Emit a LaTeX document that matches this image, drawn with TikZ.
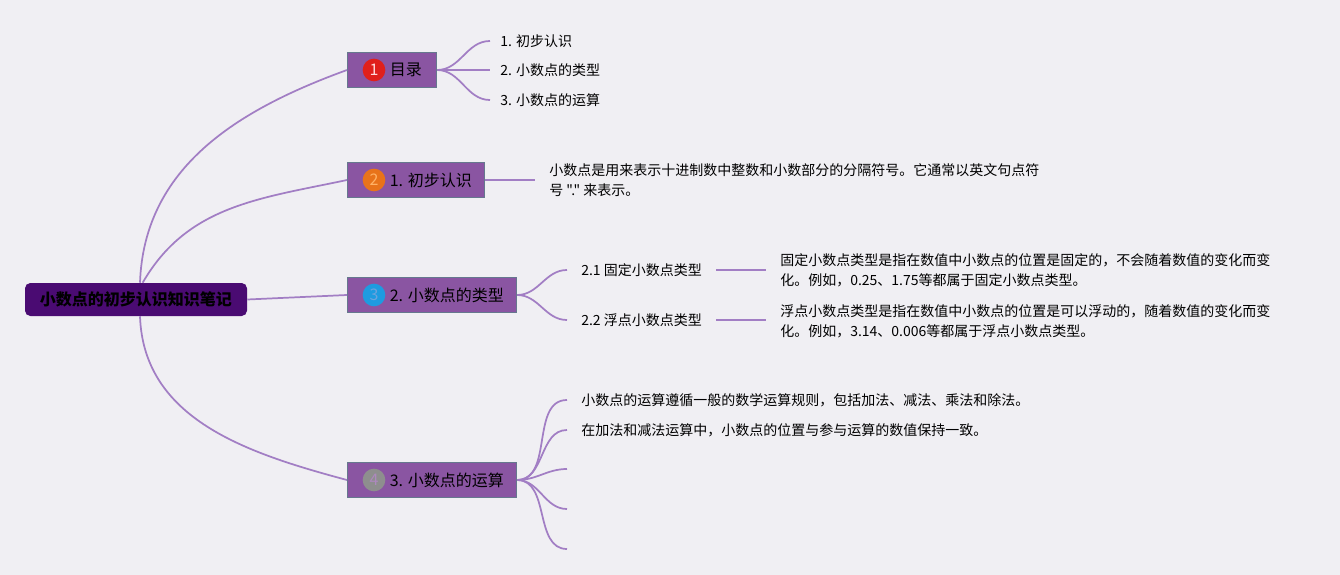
\documentclass[tikz,border=0pt]{standalone}
\usepackage{fontspec}
\setmainfont{Noto Sans CJK SC}[Ligatures=TeXOff]
\usepackage{xcolor}
\usepackage{tikz}
\usetikzlibrary{positioning}

\definecolor{bgcol}{HTML}{F0EFF3}
\definecolor{rootcol}{HTML}{4A0B72}
\definecolor{boxcol}{HTML}{8A55A2}
\definecolor{boxline}{HTML}{66788E}
\definecolor{linkcol}{HTML}{A27EC4}
\definecolor{dotred}{HTML}{E0201B}
\definecolor{dotorange}{HTML}{E8731A}
\definecolor{dotblue}{HTML}{1E9BE0}
\definecolor{dotgray}{HTML}{8E8E8E}

\begin{document}
\begin{tikzpicture}[x=0.75pt, y=-0.75pt,
		link/.style={draw=linkcol, line width=1.3pt},
		rootbox/.style={fill=rootcol, rounded corners=4pt, minimum width=166.5pt, minimum height=24.75pt, font=\fontsize{12}{14}\selectfont\bfseries},
		branchbox/.style={fill=boxcol, draw=boxline, line width=0.8pt, minimum height=26.25pt, anchor=west},
		numdot/.style={circle, minimum size=17pt, inner sep=0pt, font=\fontsize{12}{14}\selectfont},
		branchtxt/.style={inner sep=1pt, font=\fontsize{12}{14}\selectfont},
		leaf/.style={anchor=west, inner xsep=10.5pt, inner ysep=0pt, align=left, font=\fontsize{10.5}{15}\selectfont}]

		\fill[bgcol] (0,0) rectangle (1340,575);

		% centre
		\node[rootbox] (root) at (136,299.5) {小数点的初步认识知识笔记};

		% main branches
		\node[branchbox, minimum width=66.75pt] (b1) at (347,70) {};
		\node[numdot, fill=dotred, text=white!85!red] (n1) at (374,70) {1};
		\node[branchtxt, right=2pt of n1] (t1) {目录};

		\node[branchbox, minimum width=102.75pt] (b2) at (347,180) {};
		\node[numdot, fill=dotorange, text=orange!60!white] (n2) at (374,180) {2};
		\node[branchtxt, right=2pt of n2] (t2) {1. 初步认识};

		\node[branchbox, minimum width=126.75pt] (b3) at (347,295) {};
		\node[numdot, fill=dotblue, text=cyan!60!blue!60!white] (n3) at (374,295) {3};
		\node[branchtxt, right=2pt of n3] (t3) {2. 小数点的类型};

		\node[branchbox, minimum width=126.75pt] (b4) at (347,480) {};
		\node[numdot, fill=dotgray, text=boxcol!70!white] (n4) at (374,480) {4};
		\node[branchtxt, right=2pt of n4] (t4) {3. 小数点的运算};

		\draw[link] ([xshift=3pt]root.north) to[out=88, in=200] (b1.west);
		\draw[link] ([xshift=5pt]root.north) to[out=60, in=192] (b2.west);
		\draw[link] (root.east) -- (b3.west);
		\draw[link] ([xshift=3pt]root.south) to[out=-88, in=165] (b4.west);

		% 目录
		\node[leaf, inner xsep=7.5pt] (c11) at (490,41) {1. 初步认识};
		\node[leaf, inner xsep=7.5pt] (c12) at (490,70) {2. 小数点的类型};
		\node[leaf, inner xsep=7.5pt] (c13) at (490,100) {3. 小数点的运算};
		\foreach \c in {c11,c12,c13}
			\draw[link] (b1.east) to[out=0, in=180] (\c.west);

		% 初步认识
		\node[leaf] (c21) at (535,180) {小数点是用来表示十进制数中整数和小数部分的分隔符号。它通常以英文句点符\\号 "." 来表示。};
		\draw[link] (b2.east) -- (c21.west);

		% 类型
		\node[leaf] (c31) at (567,270) {2.1 固定小数点类型};
		\node[leaf] (c32) at (567,320) {2.2 浮点小数点类型};
		\draw[link] (b3.east) to[out=0, in=180] (c31.west);
		\draw[link] (b3.east) to[out=0, in=180] (c32.west);

		\node[leaf] (d31) at (766,270) {固定小数点类型是指在数值中小数点的位置是固定的，不会随着数值的变化而变\\化。例如，0.25、1.75等都属于固定小数点类型。};
		\node[leaf] (d32) at (766,321) {浮点小数点类型是指在数值中小数点的位置是可以浮动的，随着数值的变化而变\\化。例如，3.14、0.006等都属于浮点小数点类型。};
		\draw[link] (c31.east) -- (d31.west);
		\draw[link] (c32.east) -- ([yshift=0.75pt]d32.west);

		% 运算
		\node[leaf] (c41) at (567,400) {小数点的运算遵循一般的数学运算规则，包括加法、减法、乘法和除法。};
		\node[leaf] (c42) at (567,430) {在加法和减法运算中，小数点的位置与参与运算的数值保持一致。};
		\coordinate (c43) at (567,469);
		\coordinate (c44) at (567,509);
		\coordinate (c45) at (567,549);
		\foreach \c in {c41,c42,c43,c44,c45}
			\draw[link] (b4.east) to[out=0, in=180] (\c.west);

	\end{tikzpicture}
\end{document}
